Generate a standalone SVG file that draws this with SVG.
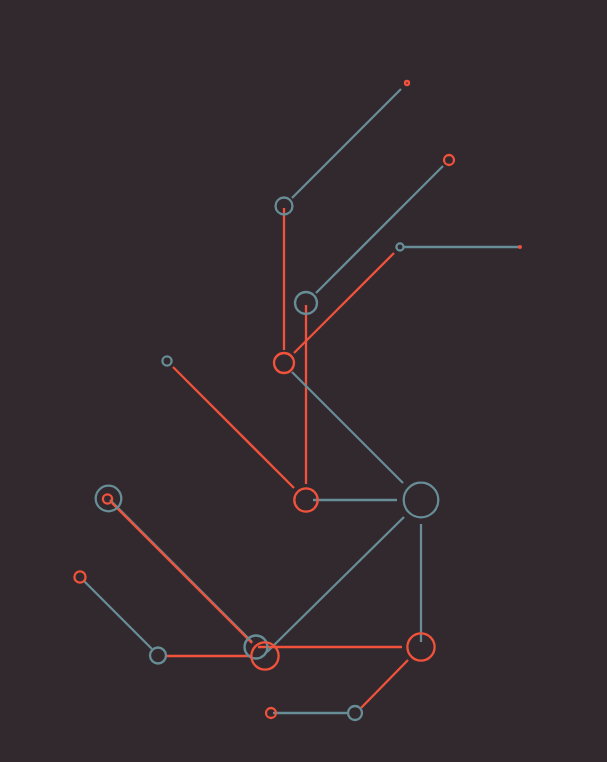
<svg xmlns="http://www.w3.org/2000/svg" width="607" height="762" viewBox="0 0 607 762">
<style>
.g{stroke:#678d96;fill:none;stroke-width:2.3}
.r{stroke:#f0523c;fill:none;stroke-width:2.3}
</style>
<rect width="607" height="762" fill="#32292e"/>
<g id="connectors">
<line class="g" x1="292" y1="198" x2="401" y2="89"/>
<line class="r" x1="284" y1="208" x2="284" y2="350"/>
<line class="g" x1="316" y1="293" x2="443" y2="166"/>
<line class="g" x1="404" y1="247" x2="520" y2="247"/>
<line class="r" x1="294" y1="353" x2="394" y2="253"/>
<line class="r" x1="306" y1="305" x2="306" y2="484"/>
<line class="g" x1="292" y1="372" x2="403" y2="483"/>
<line class="r" x1="173" y1="367" x2="294" y2="488"/>
<line class="g" x1="313" y1="500" x2="397" y2="500"/>
<line class="g" x1="404" y1="517" x2="267" y2="652"/>
<line class="g" x1="421" y1="524" x2="421" y2="642"/>
<line class="g" x1="110" y1="500" x2="252" y2="642"/>
<line class="r" x1="112" y1="503" x2="252" y2="643"/>
<line class="g" x1="84" y1="581" x2="152" y2="649"/>
<line class="r" x1="166" y1="656" x2="252" y2="656"/>
<line class="r" x1="258" y1="647" x2="402" y2="647"/>
<line class="r" x1="408" y1="660" x2="361" y2="708"/>
<line class="g" x1="273" y1="713" x2="347" y2="713"/>
</g>
<g id="nA"><circle class="r" cx="407" cy="83" r="2"/></g>
<g id="nB"><circle class="g" cx="284" cy="206" r="8.5"/></g>
<g id="nC"><circle class="r" cx="449" cy="160" r="5"/></g>
<g id="nD"><circle class="g" cx="400" cy="247" r="3.6"/></g>
<g id="nE"><circle cx="520" cy="247" r="2" fill="#f0523c"/></g>
<g id="nF"><circle class="g" cx="306" cy="303" r="11"/></g>
<g id="nG"><circle class="r" cx="284" cy="363" r="10"/></g>
<g id="nH"><circle class="g" cx="167" cy="361" r="4.6"/></g>
<g id="nI"><circle class="r" cx="306" cy="500" r="11.7"/></g>
<g id="nJ"><circle class="g" cx="421" cy="500" r="17.3"/></g>
<g id="nK"><circle class="g" cx="108.5" cy="498.5" r="12.8"/><circle class="r" cx="107.5" cy="499" r="4.6"/></g>
<g id="nL"><circle class="r" cx="80" cy="577" r="5.6"/></g>
<g id="nM"><circle class="g" cx="158" cy="655.5" r="8"/></g>
<g id="nN"><circle class="g" cx="256" cy="647" r="11.5"/><circle class="r" cx="265" cy="656" r="13.6"/></g>
<g id="nO"><circle class="r" cx="421" cy="647" r="13.6"/></g>
<g id="nP"><circle class="r" cx="271" cy="713" r="5"/></g>
<g id="nQ"><circle class="g" cx="355" cy="713" r="7"/></g>
</svg>
